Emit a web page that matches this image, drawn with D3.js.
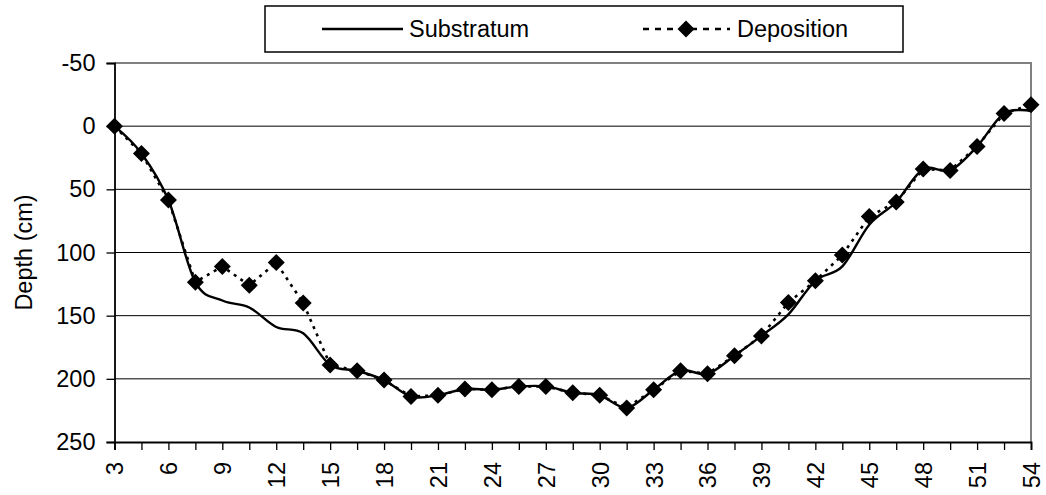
<!DOCTYPE html>
<html><head><meta charset="utf-8">
<script src="https://cdn.jsdelivr.net/npm/d3@7"></script>
<style>body{margin:0;background:#fff}svg{display:block}text{font-family:"Liberation Sans",Arial,sans-serif;fill:#000}</style>
</head><body><svg id="c" width="1046" height="495"></svg>
<script>
const positions = [3,4.5,6,7.5,9,10.5,12,13.5,15,16.5,18,19.5,21,22.5,24,25.5,27,28.5,30,31.5,33,34.5,36,37.5,39,40.5,42,43.5,45,46.5,48,49.5,51,52.5,54];
const substratum = [0,21.6,58.5,123.5,138,143.5,159,164,189,193.6,201,214,213,208,208.6,206,206,211,213,223,208.6,193.6,196,181.7,166,149,122.4,111,78,60,34,35,16,-10,-12];
const deposition = [0,21.6,58.5,123.5,111,126,108,140,189,193.6,201,214,213,208,208.6,206,206,211,213,223,208.6,193.6,196,181.7,166,139.5,122.4,102,71.5,60,34,35,16,-10,-17];
const xTickLabels = [3,6,9,12,15,18,21,24,27,30,33,36,39,42,45,48,51,54];
const yTicks = [-50,0,50,100,150,200,250];
const seriesNames = ["Substratum","Deposition"];

const svg = d3.select("#c");
const L=114.5, R=1031, T=63, B=442;
const x = d3.scaleLinear().domain([3,54]).range([L,R]);
const y = d3.scaleLinear().domain([-50,250]).range([T,B]);
const fs = 23.5;

// gridlines
svg.append("g").selectAll("line").data(yTicks.filter(d=>d>-50&&d<250)).join("line")
  .attr("x1",L).attr("x2",R).attr("y1",d=>y(d)).attr("y2",d=>y(d))
  .attr("stroke","#000").attr("stroke-width",1);
// plot border top/right gray
svg.append("path").attr("d",`M${L},${T}H${R}V${B}`).attr("fill","none").attr("stroke","#808080").attr("stroke-width",2);

// y axis
const ya = svg.append("g").attr("transform",`translate(${L},0)`)
  .call(d3.axisLeft(y).tickValues(yTicks).tickSize(8).tickPadding(11).tickFormat(d=>String(d)));
ya.select(".domain").attr("stroke","#000").attr("stroke-width",1.8);
ya.selectAll(".tick line").attr("stroke","#000").attr("stroke-width",1.3);
ya.selectAll("text").attr("font-size",fs).attr("font-family","Liberation Sans, Arial, sans-serif").attr("fill","#000");

// x axis
const xa = svg.append("g").attr("transform",`translate(0,${B})`)
  .call(d3.axisBottom(x).tickValues(positions).tickSize(8).tickFormat(d=>xTickLabels.includes(d)?String(d):""));
xa.select(".domain").attr("stroke","#000").attr("stroke-width",1.8);
xa.selectAll(".tick line").attr("stroke","#000").attr("stroke-width",1.3);
xa.selectAll("text").attr("font-size",fs).attr("font-family","Liberation Sans, Arial, sans-serif").attr("fill","#000")
  .attr("transform","rotate(-90)").attr("text-anchor","end").attr("dy","0.36em").attr("x",-20).attr("y",0);

// y label
svg.append("text").attr("transform",`translate(32,${(T+B)/2}) rotate(-90)`).attr("text-anchor","middle")
  .attr("font-size",fs).text("Depth (cm)");

// lines
const pts = (arr)=>arr.map((v,i)=>[positions[i],v]);
svg.append("path").datum(pts(substratum)).attr("fill","none").attr("stroke","#000").attr("stroke-width",2.4)
  .attr("d",d3.line().x(d=>x(d[0])).y(d=>y(d[1])).curve(d3.curveCardinal.tension(0)));
svg.append("path").datum(pts(deposition)).attr("fill","none").attr("stroke","#000").attr("stroke-width",2.6)
  .attr("stroke-dasharray","3,5")
  .attr("d",d3.line().x(d=>x(d[0])).y(d=>y(d[1])));
const dsym = "M0,-8.5L8.5,0L0,8.5L-8.5,0Z";
svg.append("g").selectAll("path").data(pts(deposition)).join("path")
  .attr("d",dsym).attr("transform",d=>`translate(${x(d[0])},${y(d[1])})`).attr("fill","#000");

// legend
const lg = svg.append("g");
lg.append("rect").attr("x",265).attr("y",6).attr("width",638).attr("height",46).attr("fill","#fff").attr("stroke","#000").attr("stroke-width",1.5);
lg.append("line").attr("x1",322).attr("x2",403).attr("y1",29).attr("y2",29).attr("stroke","#000").attr("stroke-width",2.4);
lg.append("text").attr("x",409).attr("y",29).attr("dy","0.35em").attr("font-size",fs).text(seriesNames[0]);
lg.append("line").attr("x1",643).attr("x2",730).attr("y1",29).attr("y2",29).attr("stroke","#000").attr("stroke-width",2.6).attr("stroke-dasharray","6,6");
lg.append("path").attr("d",dsym).attr("transform","translate(686,29)").attr("fill","#000");
lg.append("text").attr("x",737).attr("y",29).attr("dy","0.35em").attr("font-size",fs).text(seriesNames[1]);
</script></body></html>
